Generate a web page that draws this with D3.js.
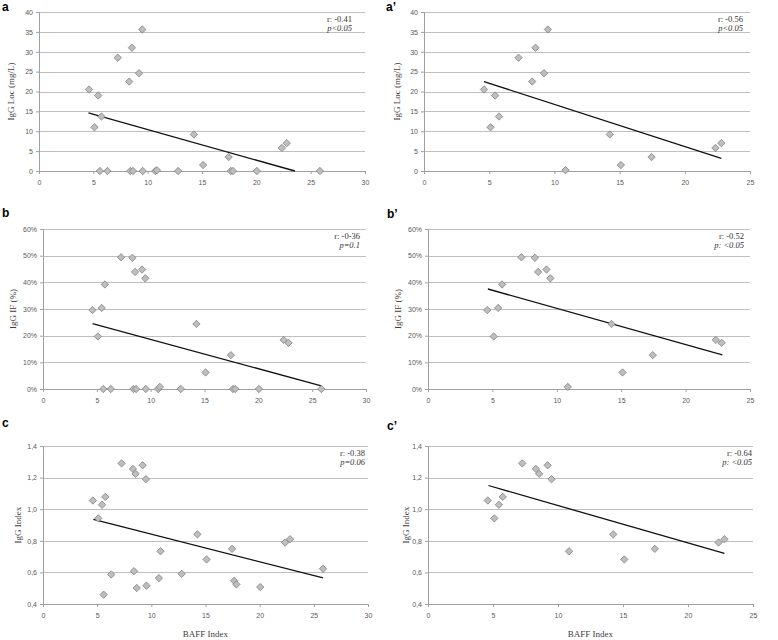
<!DOCTYPE html>
<html>
<head>
<meta charset="utf-8">
<script src="https://cdn.jsdelivr.net/npm/d3@7"></script>
<style>
  body { margin: 0; background: #fff; }
</style>
</head>
<body>
<div id="chart"></div>
<script>
// BAFF index of each patient
var baff = [4.6, 5.1, 5.45, 5.6, 5.75, 6.3, 7.25, 8.3, 8.4, 8.55, 8.65, 9.2, 9.5, 9.55,
            10.7, 10.85, 12.8, 14.25, 15.1, 17.45, 17.65, 17.85, 20.05, 22.35, 22.8, 25.85];
// IgG Loc (mg/L)
var iggLoc = [20.5, 11.0, 19.0, 0, 13.7, 0, 28.5, 22.5, 0, 31.0, 0, 24.6, 35.6, 0,
              0, 0.2, 0, 9.2, 1.5, 3.5, 0, 0, 0, 5.8, 7.0, 0];
// IgG IF (fraction)
var iggIF = [0.296, 0.197, 0.304, 0, 0.392, 0, 0.494, 0.492, 0, 0.439, 0, 0.448, 0.415, 0,
             0, 0.008, 0, 0.244, 0.062, 0.127, 0, 0, 0, 0.184, 0.173, 0];
// IgG Index
var iggIndex = [1.055, 0.942, 1.028, 0.459, 1.078, 0.587, 1.290, 1.255, 0.608, 1.224, 0.501, 1.278, 1.190, 0.516,
                0.564, 0.734, 0.591, 0.841, 0.682, 0.749, 0.547, 0.524, 0.507, 0.789, 0.810, 0.623];

// trend line end points
var trendA  = [[4.55, 14.6], [23.55, 0]];
var trendA2 = [[4.6, 22.5], [22.8, 3.2]];
var trendB  = [[4.6, 0.245], [25.85, 0.012]];
var trendB2 = [[4.65, 0.375], [22.85, 0.128]];
var trendC  = [[4.65, 0.935], [25.85, 0.565]];
var trendC2 = [[4.65, 1.15], [22.8, 0.72]];

// tick values
var xTicks30 = [0, 5, 10, 15, 20, 25, 30];
var xTicks25 = [0, 5, 10, 15, 20, 25];
var locTicks = [0, 5, 10, 15, 20, 25, 30, 35, 40];
var ifTicks = [0, 0.1, 0.2, 0.3, 0.4, 0.5, 0.6];
var idxTicks = [0.4, 0.6, 0.8, 1.0, 1.2, 1.4];

var W = 778, H = 640;

var svg = d3.select("#chart")
  .append("svg")
    .attr("width", W)
    .attr("height", H);

var allPts = baff.map(function(b, i) {
  return {x: b, loc: iggLoc[i], pct: iggIF[i], idx: iggIndex[i]};
});
// the primed panels only keep patients with a measurable IgG Loc
var subPts = allPts.filter(function(d) { return d.loc > 0; });

var diamond = d3.symbol().type(d3.symbolSquare).size(27);

function drawPanel(p) {
  var x = d3.scaleLinear().domain([0, p.xMax]).range([p.left, p.right]);
  var y = d3.scaleLinear().domain(p.yDomain).range([p.bottom, p.top]);
  var g = svg.append("g");

  // grid
  g.selectAll(".grid")
    .data(p.yTicks.slice(1))
    .enter()
    .append("line")
      .attr("x1", p.left)
      .attr("x2", p.right)
      .attr("y1", function(d) { return Math.round(y(d)) + 0.5; })
      .attr("y2", function(d) { return Math.round(y(d)) + 0.5; })
      .style("stroke", "#bfbfbf")
      .style("stroke-width", 1.2);

  // y axis
  var ya = g.append("g")
    .attr("transform", "translate(" + p.left + ",0)")
    .call(d3.axisLeft(y).tickValues(p.yTicks).tickFormat(p.yFmt).tickSize(3).tickPadding(3));
  // x axis
  var xa = g.append("g")
    .attr("transform", "translate(0," + p.bottom + ")")
    .call(d3.axisBottom(x).tickValues(p.xTicks).tickFormat(d3.format("d")).tickSize(3).tickPadding(6));

  g.selectAll(".domain").style("stroke", "#a0a0a0");
  g.selectAll(".tick line").style("stroke", "#a0a0a0");
  g.selectAll(".tick text")
    .style("fill", "#595959")
    .style("font-size", "7px")
    .style("font-family", "Liberation Sans");

  // trend line
  g.append("line")
    .attr("x1", x(p.trend[0][0]))
    .attr("y1", y(p.trend[0][1]))
    .attr("x2", x(p.trend[1][0]))
    .attr("y2", y(p.trend[1][1]))
    .style("stroke", "#111")
    .style("stroke-width", 1.3);

  // dots
  g.selectAll(".dot")
    .data(p.data)
    .enter()
    .append("path")
      .attr("d", diamond)
      .attr("transform", function(d) {
        return "translate(" + x(d.x) + "," + y(d[p.key]) + ") rotate(45)";
      })
      .style("fill", "#bebebe")
      .style("stroke", "#7a7a7a")
      .style("stroke-width", 0.7);

  // y title
  g.append("text")
    .attr("transform", "translate(" + p.yTitleX + "," + (p.top + p.bottom) / 2 + ") rotate(-90)")
    .style("text-anchor", "middle")
    .style("font-size", "9px")
    .style("font-family", "Liberation Serif")
    .style("fill", "#404040")
    .text(p.yTitle);

  // r / p note
  g.append("text")
    .attr("x", p.right - p.noteInset)
    .attr("y", p.top + 10)
    .style("text-anchor", "end")
    .style("font-size", "8.5px")
    .style("font-family", "Liberation Serif")
    .style("fill", "#333")
    .text(p.r);
  g.append("text")
    .attr("x", p.right - p.noteInset)
    .attr("y", p.top + 19)
    .style("text-anchor", "end")
    .style("font-size", "8.5px")
    .style("font-style", "italic")
    .style("font-family", "Liberation Serif")
    .style("fill", "#333")
    .text(p.p);

  // panel letter
  g.append("text")
    .attr("x", p.labelX)
    .attr("y", p.labelY)
    .style("font-size", "12px")
    .style("font-weight", "bold")
    .style("font-family", "Liberation Sans")
    .style("fill", "#000")
    .text(p.label);

  if (p.xTitle) {
    g.append("text")
      .attr("x", (p.left + p.right) / 2)
      .attr("y", 637)
      .style("text-anchor", "middle")
      .style("font-size", "9px")
      .style("font-family", "Liberation Serif")
      .style("fill", "#404040")
      .text(p.xTitle);
  }
}

var fmtInt = d3.format("d");
var fmtPct = function(d) { return Math.round(d * 100) + "%"; };
var fmtComma = function(d) { return d3.format(".1f")(d).replace(".", ","); };

drawPanel({label: "a", labelX: 2, labelY: 11, left: 39, right: 365, top: 12, bottom: 171,
  xMax: 30, xTicks: xTicks30, yDomain: [0, 40], yTicks: locTicks, yFmt: fmtInt,
  data: allPts, key: "loc", trend: trendA, yTitle: "IgG Loc (mg/L)", yTitleX: 14,
  r: "r: -0.41", p: "p<0.05", noteInset: 13});
drawPanel({label: "a\u2019", labelX: 386, labelY: 11, left: 424, right: 750, top: 12, bottom: 171,
  xMax: 25, xTicks: xTicks25, yDomain: [0, 40], yTicks: locTicks, yFmt: fmtInt,
  data: subPts, key: "loc", trend: trendA2, yTitle: "IgG Loc (mg/L)", yTitleX: 400,
  r: "r: -0.56", p: "p<0.05", noteInset: 7});
drawPanel({label: "b", labelX: 2, labelY: 217, left: 43, right: 366, top: 229, bottom: 389,
  xMax: 30, xTicks: xTicks30, yDomain: [0, 0.6], yTicks: ifTicks, yFmt: fmtPct,
  data: allPts, key: "pct", trend: trendB, yTitle: "IgG IF (%)", yTitleX: 16,
  r: "r: -0-36", p: "p=0.1", noteInset: 6});
drawPanel({label: "b\u2019", labelX: 387, labelY: 218, left: 428, right: 750, top: 229, bottom: 389,
  xMax: 25, xTicks: xTicks25, yDomain: [0, 0.6], yTicks: ifTicks, yFmt: fmtPct,
  data: subPts, key: "pct", trend: trendB2, yTitle: "IgG IF (%)", yTitleX: 401,
  r: "r: -0.52", p: "p: <0.05", noteInset: 6});
drawPanel({label: "c", labelX: 2, labelY: 427, left: 43, right: 368, top: 446, bottom: 604,
  xMax: 30, xTicks: xTicks30, yDomain: [0.4, 1.4], yTicks: idxTicks, yFmt: fmtComma,
  data: allPts, key: "idx", trend: trendC, yTitle: "IgG Index", yTitleX: 21,
  r: "r: -0.38", p: "p=0.06", noteInset: 3, xTitle: "BAFF Index"});
drawPanel({label: "c\u2019", labelX: 387, labelY: 430, left: 428, right: 753, top: 446, bottom: 604,
  xMax: 25, xTicks: xTicks25, yDomain: [0.4, 1.4], yTicks: idxTicks, yFmt: fmtComma,
  data: subPts, key: "idx", trend: trendC2, yTitle: "IgG Index", yTitleX: 409,
  r: "r: -0.64", p: "p: <0.05", noteInset: 1, xTitle: "BAFF Index"});
</script>
</body>
</html>
